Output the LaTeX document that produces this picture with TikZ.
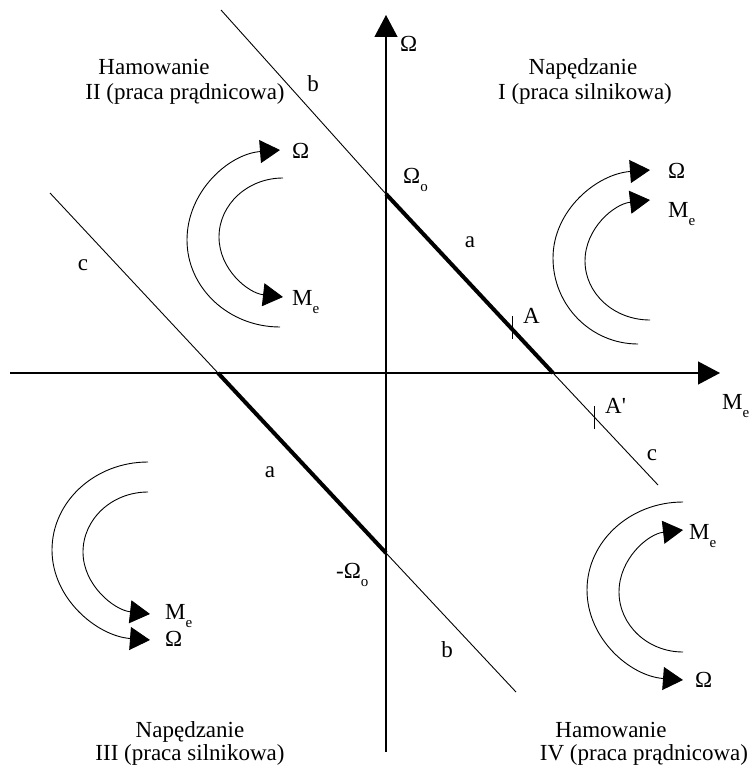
\documentclass[tikz,border=0pt]{standalone}
\usepackage{fontspec}
\setmainfont{Liberation Serif}
\usetikzlibrary{arrows.meta}
\newcommand\lsub[1]{\raisebox{-8pt}{\fontsize{15}{15}\selectfont #1}}
\begin{document}
\begin{tikzpicture}[x=1pt,y=-1pt,
  every node/.style={font=\fontsize{23}{27}\selectfont, inner sep=0pt},
  thinline/.style={line width=0.9pt},
  thickline/.style={line width=4pt},
  axisline/.style={line width=1.2pt, -{Triangle[length=22pt,width=23pt]}},
  rotarrow/.style={line width=0.9pt, -{Triangle[length=20pt,width=23pt]}},
  lbl/.style={anchor=base west},
  ctr/.style={anchor=base},
]
\useasboundingbox (0,0) rectangle (749,773);

% axes
\coordinate (hx0) at (10,373);
\coordinate (hx1) at (720,373);
\coordinate (vy0) at (386,752);
\coordinate (vy1) at (386,15);
\draw[axisline] (hx0) -- (hx1);
\draw[axisline] (vy0) -- (vy1);

% characteristic lines
\coordinate (u0) at (221,10);
\coordinate (Om) at (386,194);
\coordinate (U1) at (553,373);
\coordinate (u1) at (658,485);
\coordinate (l0) at (50,193);
\coordinate (L1) at (218,373);
\coordinate (mOm) at (386,553);
\coordinate (l1) at (516,692);
\draw[thinline] (u0) -- (Om) -- (U1) -- (u1);
\draw[thinline] (l0) -- (L1) -- (mOm) -- (l1);
\draw[thickline] (Om) -- (U1);
\draw[thickline] (L1) -- (mOm);

% ticks
\coordinate (tA0) at (512,316);
\coordinate (tA1) at (512,339);
\coordinate (tB0) at (594,406);
\coordinate (tB1) at (594,429);
\draw[thinline] (tA0) -- (tA1);
\draw[thinline] (tB0) -- (tB1);

% quadrant II
\draw[rotarrow] (280,327) .. controls (228.7,327) and (187,288) .. (187,240)
  .. controls (187,191.4) and (228.7,154) .. (280,150);
\draw[rotarrow] (283,178) .. controls (247.7,178) and (219,204.4) .. (219,237)
  .. controls (219,269) and (247.7,293) .. (283,297);
% quadrant I
\draw[rotarrow] (638,344) .. controls (591,344) and (553,305.5) .. (553,258)
  .. controls (553,210.5) and (596.5,174) .. (650,170);
\draw[rotarrow] (650,320) .. controls (614,320) and (585,293.6) .. (585,261)
  .. controls (585,228.4) and (614,204) .. (650,200);
% quadrant IV
\draw[rotarrow] (683,502) .. controls (630,502) and (587,541.4) .. (587,590)
  .. controls (587,638.6) and (630,676) .. (683,680);
\draw[rotarrow] (683,652) .. controls (647.7,652) and (619,625) .. (619,592)
  .. controls (619,559) and (647.7,534) .. (683,530);
% quadrant III
\draw[rotarrow] (148,462) .. controls (95,462) and (52,501.4) .. (52,550)
  .. controls (52,598.6) and (97,636) .. (150,640);
\draw[rotarrow] (148,492) .. controls (112,492) and (83,519) .. (83,552)
  .. controls (83,585) and (114,610) .. (150,614);

% axis labels
\node[lbl] (tOm) at (400,52) {Ω};
\node[lbl] (tMe) at (722,409) {M\lsub{e}};
\node[lbl] (tOo) at (403,183) {Ω\lsub{o}};
\node[lbl] (tmOo) at (336,578) {-Ω\lsub{o}};
\node[lbl] (tA) at (523,323) {A};
\node[lbl] (tA2) at (605,413) {A\textquotesingle};

% line labels
\node[ctr] (tb1) at (313,92) {b};
\node[ctr] (ta1) at (470,247) {a};
\node[ctr] (tc1) at (652,460) {c};
\node[ctr] (tc2) at (83,270) {c};
\node[ctr] (ta2) at (270,477) {a};
\node[ctr] (tb2) at (447,657) {b};

% rotation labels
\node[lbl] (q2O) at (292,158) {Ω};
\node[lbl] (q2M) at (292,305) {M\lsub{e}};
\node[lbl] (q1O) at (668,178) {Ω};
\node[lbl] (q1M) at (668,217) {M\lsub{e}};
\node[lbl] (q4M) at (689,539) {M\lsub{e}};
\node[lbl] (q4O) at (695,687) {Ω};
\node[lbl] (q3M) at (165,619) {M\lsub{e}};
\node[lbl] (q3O) at (165,646) {Ω};

% quadrant titles
\node[ctr] (h2a) at (154,75) {Hamowanie};
\node[ctr] (h2b) at (185,100) {II (praca prądnicowa)};
\node[ctr] (h1a) at (583,75) {Napędzanie};
\node[ctr] (h1b) at (585,100) {I (praca silnikowa)};
\node[ctr] (h3a) at (190,737) {Napędzanie};
\node[ctr] (h3b) at (190,760) {III (praca silnikowa)};
\node[ctr] (h4a) at (611,737) {Hamowanie};
\node[ctr] (h4b) at (644,760) {IV (praca prądnicowa)};
\end{tikzpicture}
\end{document}
